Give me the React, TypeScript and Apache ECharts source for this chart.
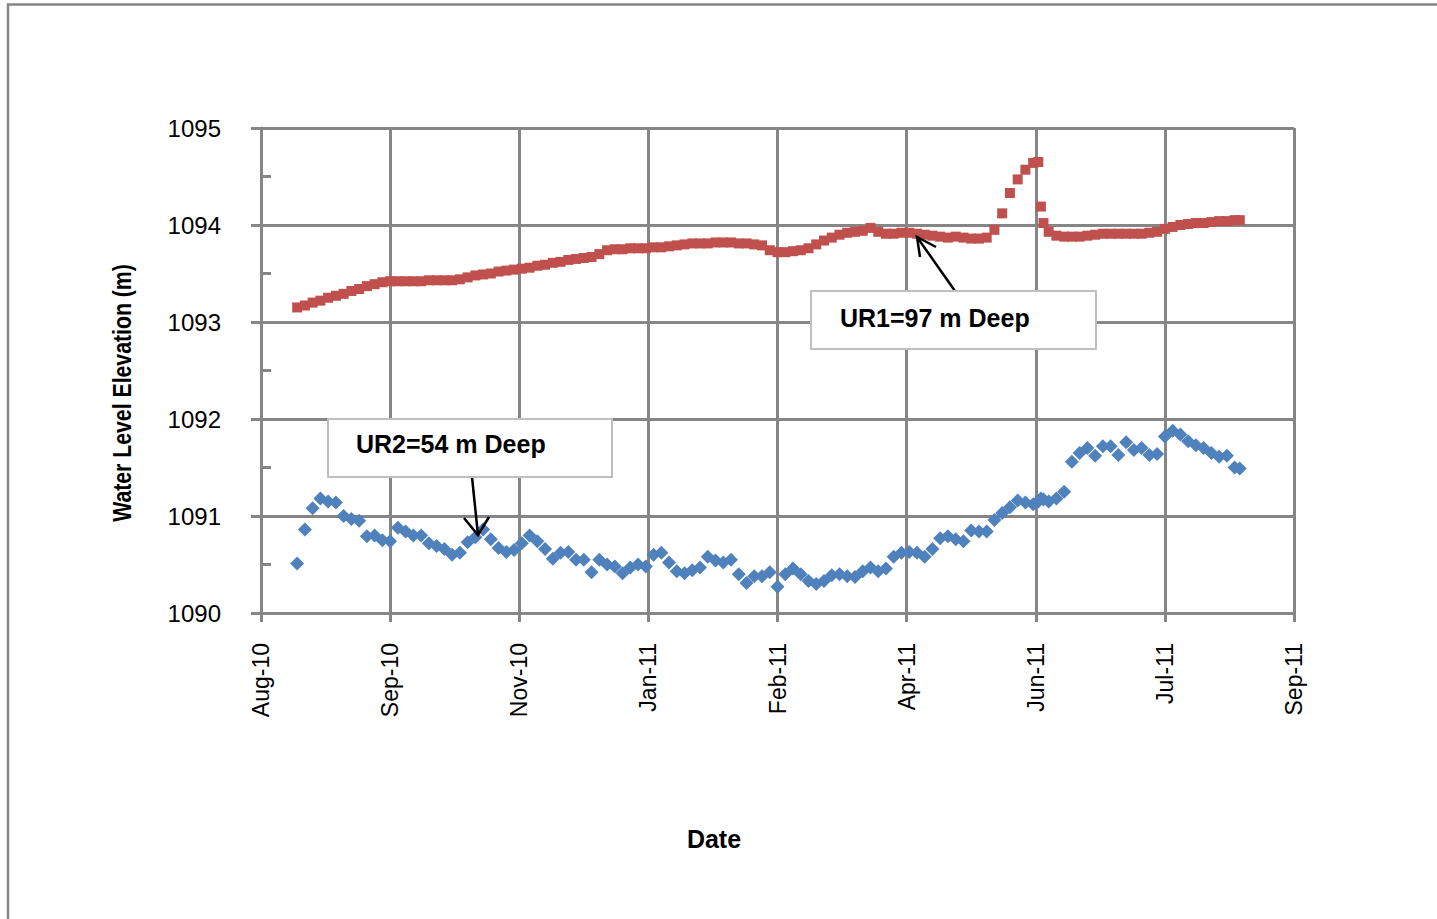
import React, { useEffect, useRef } from "react";
import * as echarts from "echarts";

// Observation dates (every ~3 days)
const dates: string[] = [
  "2010-08-24", "2010-08-27", "2010-08-30",
  "2010-09-02", "2010-09-05", "2010-09-08", "2010-09-11", "2010-09-14", "2010-09-17", "2010-09-20", "2010-09-23", "2010-09-26", "2010-09-29",
  "2010-10-02", "2010-10-05", "2010-10-08", "2010-10-11", "2010-10-14", "2010-10-17", "2010-10-20", "2010-10-23", "2010-10-26", "2010-10-29",
  "2010-11-01", "2010-11-04", "2010-11-07", "2010-11-10", "2010-11-13", "2010-11-16", "2010-11-19", "2010-11-22", "2010-11-25", "2010-11-28",
  "2010-12-01", "2010-12-04", "2010-12-07", "2010-12-10", "2010-12-13", "2010-12-16", "2010-12-19", "2010-12-22", "2010-12-25", "2010-12-28", "2010-12-31",
  "2011-01-03", "2011-01-06", "2011-01-09", "2011-01-12", "2011-01-15", "2011-01-18", "2011-01-21", "2011-01-24", "2011-01-27", "2011-01-30",
  "2011-02-02", "2011-02-05", "2011-02-08", "2011-02-11", "2011-02-14", "2011-02-17", "2011-02-20", "2011-02-23", "2011-02-26",
  "2011-03-01", "2011-03-04", "2011-03-07", "2011-03-10", "2011-03-13", "2011-03-16", "2011-03-19", "2011-03-22", "2011-03-25", "2011-03-28", "2011-03-31",
  "2011-04-03", "2011-04-06", "2011-04-09", "2011-04-12", "2011-04-15", "2011-04-18", "2011-04-21", "2011-04-24", "2011-04-27", "2011-04-30",
  "2011-05-03", "2011-05-06", "2011-05-09", "2011-05-12", "2011-05-15", "2011-05-18", "2011-05-21", "2011-05-24", "2011-05-27", "2011-05-30",
  "2011-06-02", "2011-06-05", "2011-06-07", "2011-06-08", "2011-06-09", "2011-06-11", "2011-06-14", "2011-06-17", "2011-06-20", "2011-06-23", "2011-06-26", "2011-06-29",
  "2011-07-02", "2011-07-05", "2011-07-08", "2011-07-11", "2011-07-14", "2011-07-17", "2011-07-20", "2011-07-23", "2011-07-26", "2011-07-29",
  "2011-08-01", "2011-08-04", "2011-08-07", "2011-08-10", "2011-08-13", "2011-08-16", "2011-08-19", "2011-08-22", "2011-08-24",
];

// UR1 (97 m deep) water level elevation, m
const ur1Levels: number[] = [
  1093.15, 1093.17, 1093.20, 1093.22, 1093.25, 1093.27, 1093.29, 1093.32, 1093.34, 1093.37, 1093.39, 1093.41, 1093.42,
  1093.42, 1093.42, 1093.42, 1093.42, 1093.43, 1093.43, 1093.43, 1093.43, 1093.44, 1093.46,
  1093.48, 1093.49, 1093.50, 1093.52, 1093.53, 1093.54, 1093.55, 1093.56, 1093.58, 1093.59,
  1093.61, 1093.62, 1093.64, 1093.65, 1093.66, 1093.67, 1093.70, 1093.74, 1093.75, 1093.75, 1093.76,
  1093.76, 1093.76, 1093.77, 1093.77, 1093.78, 1093.79, 1093.80, 1093.81, 1093.81, 1093.81,
  1093.82, 1093.82, 1093.82, 1093.81, 1093.81, 1093.80, 1093.79, 1093.74, 1093.72,
  1093.72, 1093.73, 1093.74, 1093.76, 1093.80, 1093.84, 1093.87, 1093.90, 1093.92, 1093.93, 1093.94,
  1093.97, 1093.93, 1093.91, 1093.91, 1093.92, 1093.92, 1093.91, 1093.90, 1093.89, 1093.88,
  1093.87, 1093.88, 1093.87, 1093.86, 1093.86, 1093.87, 1093.95, 1094.12, 1094.33, 1094.47,
  1094.57, 1094.64, 1094.65, 1094.19, 1094.02, 1093.93, 1093.89, 1093.88, 1093.88, 1093.88, 1093.89, 1093.90,
  1093.91, 1093.91, 1093.91, 1093.91, 1093.91, 1093.91, 1093.92, 1093.93, 1093.96, 1093.98,
  1094.00, 1094.01, 1094.02, 1094.02, 1094.03, 1094.04, 1094.04, 1094.05, 1094.05,
];

// UR2 (54 m deep) water level elevation, m
const ur2Levels: number[] = [
  1090.51, 1090.86, 1091.08, 1091.18, 1091.15, 1091.14, 1091.00, 1090.97, 1090.95, 1090.79, 1090.80, 1090.75, 1090.74,
  1090.88, 1090.84, 1090.80, 1090.80, 1090.72, 1090.69, 1090.66, 1090.60, 1090.62, 1090.73,
  1090.78, 1090.86, 1090.76, 1090.67, 1090.63, 1090.65, 1090.72, 1090.80, 1090.74, 1090.66,
  1090.56, 1090.62, 1090.63, 1090.55, 1090.55, 1090.42, 1090.55, 1090.50, 1090.48, 1090.41, 1090.47,
  1090.50, 1090.48, 1090.60, 1090.62, 1090.52, 1090.43, 1090.41, 1090.44, 1090.47, 1090.58,
  1090.54, 1090.52, 1090.55, 1090.40, 1090.31, 1090.38, 1090.38, 1090.42, 1090.27,
  1090.40, 1090.46, 1090.40, 1090.33, 1090.30, 1090.33, 1090.39, 1090.40, 1090.38, 1090.37, 1090.43,
  1090.47, 1090.43, 1090.46, 1090.58, 1090.62, 1090.63, 1090.62, 1090.58, 1090.66, 1090.77,
  1090.79, 1090.76, 1090.74, 1090.85, 1090.84, 1090.84, 1090.96, 1091.03, 1091.09, 1091.16,
  1091.14, 1091.12, 1091.15, 1091.18, 1091.17, 1091.15, 1091.18, 1091.25, 1091.56, 1091.65, 1091.70, 1091.62,
  1091.72, 1091.72, 1091.63, 1091.76, 1091.68, 1091.70, 1091.63, 1091.64, 1091.82, 1091.88,
  1091.84, 1091.77, 1091.73, 1091.70, 1091.65, 1091.61, 1091.62, 1091.50, 1091.49,
];

const xAxisStart = "2010-08-10";
const xAxisEnd = "2011-09-14";
const xTickDays = 50;
const yMin = 1090;
const yMax = 1095;

const MONTHS = ["Jan", "Feb", "Mar", "Apr", "May", "Jun", "Jul", "Aug", "Sep", "Oct", "Nov", "Dec"];

function toSerial(d: string): number {
  const [y, m, dd] = d.split("-").map(Number);
  return Date.UTC(y, m - 1, dd) / 86400000 + 25569;
}
function fmtSerial(s: number): string {
  const dt = new Date(Math.round((s - 25569) * 86400000));
  return MONTHS[dt.getUTCMonth()] + "-" + String(dt.getUTCFullYear() % 100).padStart(2, "0");
}

const GRID = "#868686";
const FONT = "'Liberation Sans', Arial, sans-serif";

export default function App() {
  const ref = useRef<HTMLDivElement>(null);
  useEffect(() => {
    if (!ref.current) return;
    const chart = echarts.init(ref.current, undefined, { renderer: "svg" });
    const ur1 = dates.map((d, i) => [toSerial(d), ur1Levels[i]]);
    const ur2 = dates.map((d, i) => [toSerial(d), ur2Levels[i]]);
    const lineStyle = { color: GRID, width: 3 };
    chart.setOption({
      animation: false,
      backgroundColor: "#ffffff",
      grid: { left: 261, right: 143, top: 128, bottom: 306, containLabel: false },
      xAxis: {
        type: "value",
        min: toSerial(xAxisStart),
        max: toSerial(xAxisEnd),
        interval: xTickDays,
        axisLine: { show: true, lineStyle },
        axisTick: { show: true, length: 9, lineStyle },
        splitLine: { show: true, lineStyle },
        axisLabel: {
          rotate: 90,
          margin: 30,
          fontSize: 23,
          color: "#000",
          fontFamily: FONT,
          formatter: (v: number) => fmtSerial(v),
        },
      },
      yAxis: [
        {
          type: "value",
          min: yMin,
          max: yMax,
          interval: 1,
          axisLine: { show: true, lineStyle },
          axisTick: { show: true, length: 10, lineStyle },
          splitLine: { show: true, lineStyle },
          axisLabel: {
            margin: 40,
            fontSize: 24,
            color: "#000",
            fontFamily: FONT,
            formatter: (v: number) => String(v),
          },
        },
        {
          type: "value",
          min: yMin,
          max: yMax,
          interval: 0.5,
          position: "left",
          axisLine: { show: false },
          axisTick: { show: true, inside: true, length: 10, lineStyle },
          splitLine: { show: false },
          axisLabel: { show: false },
        },
      ],
      series: [
        {
          name: "UR2",
          type: "scatter",
          data: ur2,
          symbol: "diamond",
          symbolSize: 14,
          itemStyle: { color: "#4F81BD", opacity: 1 },
        },
        {
          name: "UR1",
          type: "scatter",
          data: ur1,
          symbol: "rect",
          symbolSize: 10,
          itemStyle: { color: "#C0504D", opacity: 1 },
        },
      ],
      graphic: [
        {
          type: "rect",
          silent: true,
          shape: { x: 8, y: 4.5, width: 1450, height: 940 },
          style: { fill: "none", stroke: GRID, lineWidth: 2.5 },
        },
        {
          type: "text",
          x: 122,
          y: 393,
          rotation: Math.PI / 2,
          scaleX: 0.85,
          style: {
            text: "Water Level Elevation (m)",
            font: `bold 25px ${FONT}`,
            fill: "#000",
            align: "center",
            verticalAlign: "middle",
          },
        },
        {
          type: "text",
          x: 714,
          y: 839,
          style: {
            text: "Date",
            font: `bold 25px ${FONT}`,
            fill: "#000",
            align: "center",
            verticalAlign: "middle",
          },
        },
        // UR1 annotation
        {
          type: "line",
          z: 100,
          shape: { x1: 955, y1: 291, x2: 917, y2: 237 },
          style: { stroke: "#000", lineWidth: 2.5 },
        },
        {
          type: "polyline",
          z: 100,
          shape: { points: [[920, 257], [917, 237], [936, 247]] },
          style: { stroke: "#000", lineWidth: 2.5, fill: "none" },
        },
        {
          type: "rect",
          z: 100,
          shape: { x: 811, y: 291, width: 285, height: 58 },
          style: { fill: "#fff", stroke: "#BFBFBF", lineWidth: 2 },
        },
        {
          type: "text",
          z: 101,
          x: 840,
          y: 318,
          style: {
            text: "UR1=97 m Deep",
            font: `bold 25px ${FONT}`,
            fill: "#000",
            align: "left",
            verticalAlign: "middle",
          },
        },
        // UR2 annotation
        {
          type: "line",
          z: 100,
          shape: { x1: 472, y1: 477, x2: 478, y2: 535 },
          style: { stroke: "#000", lineWidth: 2.5 },
        },
        {
          type: "polyline",
          z: 100,
          shape: { points: [[464, 518], [478, 535], [489, 517]] },
          style: { stroke: "#000", lineWidth: 2.5, fill: "none" },
        },
        {
          type: "rect",
          z: 100,
          shape: { x: 328, y: 419, width: 284, height: 58 },
          style: { fill: "#fff", stroke: "#BFBFBF", lineWidth: 2 },
        },
        {
          type: "text",
          z: 101,
          x: 356,
          y: 444,
          style: {
            text: "UR2=54 m Deep",
            font: `bold 25px ${FONT}`,
            fill: "#000",
            align: "left",
            verticalAlign: "middle",
          },
        },
      ],
    });
    return () => chart.dispose();
  }, []);
  return (
    <div
      ref={ref}
      style={{ position: "fixed", left: 0, top: 0, width: 1437, height: 919, background: "#fff" }}
    />
  );
}
